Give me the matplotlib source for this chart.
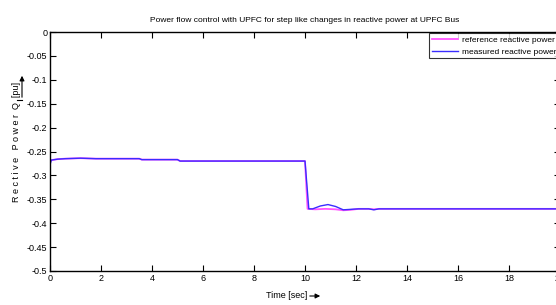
import matplotlib
matplotlib.use("Agg")
import matplotlib.pyplot as plt

plt.rcParams['font.family'] = ['Liberation Sans', 'DejaVu Sans']

title = "Power flow control with UPFC for step like changes in reactive power at UPFC Bus"
xlabel = "Time [sec]"
ylabel = "R e c t i v e   P o w e r  Q  [pu]"
legend_labels = ["reference reactive power", "measured reactive power"]

t_ref = [0, 0.05, 0.3, 0.6, 1.2, 1.8, 3.5, 3.6, 5, 5.1, 10, 10.1, 10.4, 10.8, 11.2, 11.5, 11.8, 12.1, 12.5, 12.7, 12.9, 20]
q_ref = [-0.272, -0.268, -0.266, -0.265, -0.264, -0.265, -0.265, -0.267, -0.267, -0.27, -0.27, -0.37,
         -0.371, -0.37, -0.371, -0.373, -0.372, -0.37, -0.37, -0.371, -0.37, -0.37]

t_meas = [0, 0.05, 0.3, 0.6, 1.2, 1.8, 3.5, 3.6, 5, 5.1, 10, 10.15, 10.3, 10.6, 10.9, 11.2, 11.5, 11.8, 12.1, 12.5, 12.7, 12.9, 20]
q_meas = [-0.278, -0.268, -0.266, -0.265, -0.264, -0.265, -0.265, -0.267, -0.267, -0.27, -0.27, -0.37,
          -0.37, -0.364, -0.361, -0.365, -0.372, -0.371, -0.37, -0.37, -0.372, -0.37, -0.37]

xticks = [0, 2, 4, 6, 8, 10, 12, 14, 16, 18, 20]
yticks = [0, -0.05, -0.1, -0.15, -0.2, -0.25, -0.3, -0.35, -0.4, -0.45, -0.5]
ytick_labels = ["0", "-0.05", "-0.1", "-0.15", "-0.2", "-0.25", "-0.3", "-0.35", "-0.4", "-0.45", "-0.5"]

W, H = 556, 305
fig = plt.figure(figsize=(W / 100, H / 100), dpi=100)
ax = fig.add_axes([50 / W, 1 - 271 / H, (560 - 50) / W, (271 - 32) / H])

ax.plot(t_ref, q_ref, color='#ff55ff', lw=1.3, label=legend_labels[0])
ax.plot(t_meas, q_meas, color='#3a2cff', lw=1.0, label=legend_labels[1])

ax.set_xlim(0, 20)
ax.set_ylim(-0.5, 0)
ax.set_xticks(xticks)
ax.set_xticklabels([str(x) for x in xticks])
ax.set_yticks(yticks)
ax.set_yticklabels(ytick_labels)
ax.tick_params(direction='in', length=4, width=0.8, labelsize=6.5, pad=2,
               top=True, right=True)
for s in ax.spines.values():
    s.set_linewidth(1.0)

ax.set_title(title, fontsize=6, pad=7)

leg = ax.legend(loc='upper right', bbox_to_anchor=(1.0, 1.0), borderaxespad=0.15,
                fontsize=6, frameon=True, fancybox=False, edgecolor='black',
                handlelength=3.2, handletextpad=0.4, borderpad=0.3, labelspacing=0.5)
leg.get_frame().set_linewidth(0.8)

# x label with arrow
fig.text(287 / W, 1 - 296 / H, xlabel, fontsize=6.5, ha='center', va='center')
fig.patches.append(matplotlib.patches.FancyArrowPatch(
    (307 / W, 1 - 296 / H), (323 / W, 1 - 296 / H), transform=fig.transFigure,
    arrowstyle='-|>', mutation_scale=7, lw=0.8, color='black'))

# y label with arrow
fig.text(17 / W, 1 - 142 / H, ylabel, fontsize=6.5, rotation=90, ha='center', va='center')
fig.add_artist(matplotlib.lines.Line2D([17 / W, 22 / W], [1 - 100 / H, 1 - 100 / H],
                                       transform=fig.transFigure, lw=0.8, color='black'))
fig.patches.append(matplotlib.patches.FancyArrowPatch(
    (22 / W, 1 - 100 / H), (22 / W, 1 - 73 / H), transform=fig.transFigure,
    arrowstyle='-|>', mutation_scale=7, lw=0.8, color='black'))

fig.savefig("out.png", dpi=100)
